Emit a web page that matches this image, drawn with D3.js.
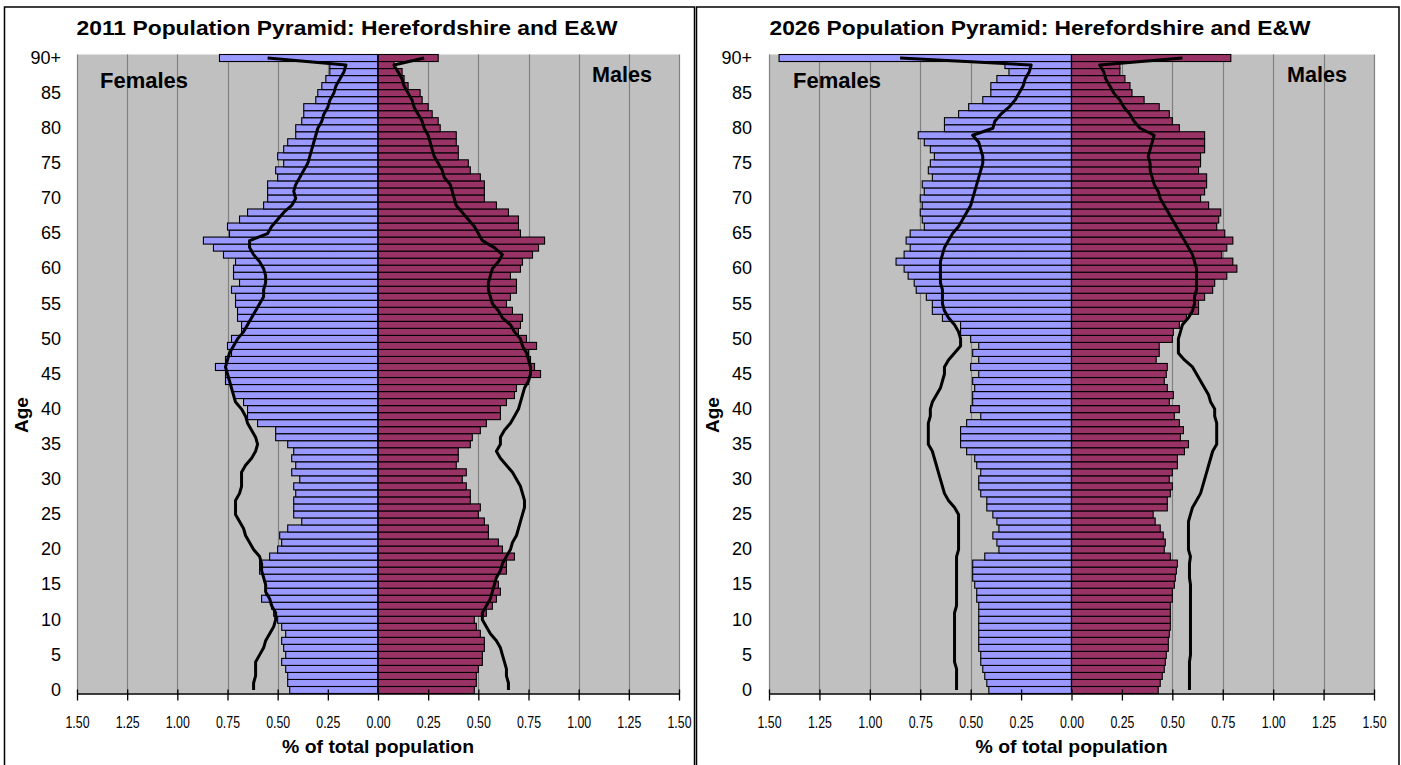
<!DOCTYPE html>
<html><head><meta charset="utf-8">
<script src="https://cdn.jsdelivr.net/npm/d3@7"></script>
<style>
body{margin:0;background:#fff}
svg{display:block}
text{font-family:"Liberation Sans",Arial,Helvetica,sans-serif;fill:#000}
</style>
</head><body>
<svg id="c" width="1401" height="765"></svg>
<script>
// ---------------- DATA ----------------
const ages = d3.range(0, 91); // 0..89, 90 = "90+"
const ageTickValues = [0,5,10,15,20,25,30,35,40,45,50,55,60,65,70,75,80,85,90];
const ageTickLabels = ["0","5","10","15","20","25","30","35","40","45","50","55","60","65","70","75","80","85","90+"];
const xTickValues = [-1.5,-1.25,-1,-0.75,-0.5,-0.25,0,0.25,0.5,0.75,1,1.25,1.5];
const xTickLabels = ["1.50","1.25","1.00","0.75","0.50","0.25","0.00","0.25","0.50","0.75","1.00","1.25","1.50"];
const titles = ["2011 Population Pyramid: Herefordshire and E&W","2026 Population Pyramid: Herefordshire and E&W"];

// % of total population, ages 0..90+
const females2011 = [0.44,0.45,0.45,0.46,0.48,0.46,0.47,0.48,0.46,0.48,
 0.50,0.52,0.53,0.58,0.56,0.56,0.57,0.59,0.59,0.54,
 0.50,0.48,0.49,0.45,0.38,0.42,0.42,0.42,0.41,0.42,
 0.39,0.43,0.41,0.43,0.42,0.45,0.51,0.51,0.60,0.65,
 0.65,0.67,0.72,0.73,0.76,0.76,0.81,0.76,0.73,0.75,
 0.73,0.68,0.68,0.70,0.70,0.71,0.71,0.73,0.69,0.72,
 0.72,0.71,0.77,0.82,0.87,0.74,0.75,0.69,0.65,0.57,
 0.55,0.55,0.55,0.50,0.51,0.47,0.50,0.47,0.45,0.41,
 0.41,0.38,0.37,0.37,0.31,0.30,0.28,0.26,0.24,0.24,
 0.79];
const males2011 = [0.48,0.49,0.49,0.50,0.52,0.52,0.53,0.53,0.51,0.49,
 0.48,0.54,0.57,0.59,0.61,0.60,0.59,0.64,0.64,0.68,
 0.62,0.60,0.55,0.55,0.53,0.50,0.51,0.46,0.46,0.44,
 0.42,0.44,0.39,0.40,0.40,0.46,0.47,0.51,0.54,0.61,
 0.61,0.64,0.68,0.69,0.75,0.81,0.78,0.76,0.75,0.79,
 0.74,0.70,0.71,0.72,0.67,0.64,0.66,0.69,0.69,0.66,
 0.71,0.72,0.77,0.80,0.83,0.71,0.70,0.70,0.65,0.59,
 0.53,0.53,0.53,0.51,0.46,0.45,0.40,0.40,0.39,0.39,
 0.31,0.30,0.27,0.25,0.22,0.21,0.15,0.13,0.12,0.08,
 0.30];
const ewFemales2011 = [0.62,0.62,0.61,0.61,0.61,0.59,0.57,0.56,0.54,0.52,
 0.51,0.51,0.53,0.54,0.56,0.56,0.57,0.58,0.58,0.59,
 0.62,0.64,0.66,0.67,0.69,0.71,0.71,0.71,0.69,0.68,
 0.68,0.68,0.66,0.63,0.61,0.60,0.61,0.63,0.65,0.66,
 0.68,0.71,0.72,0.73,0.74,0.75,0.76,0.75,0.74,0.72,
 0.70,0.67,0.65,0.63,0.61,0.59,0.57,0.57,0.56,0.56,
 0.57,0.59,0.62,0.64,0.64,0.55,0.53,0.50,0.47,0.43,
 0.41,0.42,0.41,0.39,0.37,0.35,0.34,0.33,0.32,0.31,
 0.30,0.28,0.27,0.25,0.24,0.22,0.21,0.19,0.17,0.16,
 0.55];
const ewMales2011 = [0.65,0.65,0.64,0.64,0.63,0.62,0.61,0.59,0.56,0.54,
 0.52,0.52,0.54,0.56,0.57,0.58,0.59,0.61,0.62,0.64,
 0.66,0.67,0.69,0.70,0.71,0.72,0.73,0.73,0.72,0.71,
 0.69,0.67,0.64,0.61,0.59,0.61,0.61,0.63,0.66,0.68,
 0.70,0.71,0.72,0.73,0.75,0.76,0.76,0.75,0.74,0.72,
 0.71,0.68,0.66,0.62,0.60,0.57,0.56,0.55,0.55,0.56,
 0.57,0.60,0.62,0.58,0.52,0.50,0.48,0.45,0.42,0.39,
 0.38,0.37,0.36,0.33,0.32,0.30,0.28,0.27,0.26,0.25,
 0.23,0.22,0.20,0.18,0.17,0.15,0.13,0.12,0.10,0.08,
 0.23];

const females2026 = [0.41,0.42,0.43,0.44,0.45,0.45,0.46,0.46,0.46,0.46,
 0.46,0.46,0.46,0.47,0.47,0.48,0.49,0.49,0.49,0.43,
 0.36,0.37,0.39,0.36,0.37,0.39,0.42,0.42,0.45,0.46,
 0.46,0.45,0.47,0.48,0.52,0.55,0.55,0.55,0.52,0.45,
 0.50,0.49,0.49,0.48,0.49,0.46,0.50,0.46,0.49,0.46,
 0.50,0.55,0.55,0.64,0.69,0.69,0.72,0.77,0.78,0.81,
 0.83,0.87,0.83,0.80,0.82,0.80,0.73,0.74,0.75,0.74,
 0.75,0.73,0.74,0.69,0.71,0.70,0.68,0.70,0.73,0.76,
 0.63,0.63,0.56,0.51,0.44,0.40,0.40,0.37,0.31,0.33,
 1.45];
const males2026 = [0.43,0.44,0.45,0.46,0.465,0.47,0.48,0.48,0.485,0.49,
 0.49,0.49,0.49,0.50,0.50,0.51,0.515,0.52,0.525,0.49,
 0.46,0.465,0.455,0.44,0.415,0.405,0.475,0.475,0.49,0.50,
 0.485,0.50,0.525,0.525,0.56,0.58,0.54,0.555,0.535,0.51,
 0.535,0.485,0.505,0.475,0.46,0.47,0.475,0.42,0.435,0.435,
 0.50,0.505,0.535,0.57,0.63,0.63,0.66,0.70,0.71,0.77,
 0.82,0.80,0.745,0.77,0.80,0.76,0.72,0.73,0.74,0.68,
 0.64,0.66,0.67,0.67,0.63,0.64,0.64,0.66,0.66,0.66,
 0.535,0.50,0.485,0.435,0.36,0.30,0.29,0.265,0.24,0.24,
 0.79];
const ewFemales2026 = [0.57,0.57,0.57,0.57,0.58,0.58,0.58,0.58,0.58,0.58,
 0.58,0.58,0.57,0.57,0.57,0.57,0.57,0.57,0.57,0.57,
 0.56,0.56,0.56,0.56,0.56,0.56,0.58,0.61,0.63,0.64,
 0.65,0.66,0.67,0.68,0.69,0.71,0.71,0.71,0.71,0.70,
 0.70,0.69,0.67,0.65,0.64,0.63,0.63,0.61,0.58,0.55,
 0.55,0.56,0.58,0.61,0.63,0.64,0.64,0.64,0.65,0.65,
 0.65,0.65,0.64,0.63,0.61,0.59,0.56,0.54,0.52,0.50,
 0.49,0.48,0.47,0.46,0.45,0.44,0.44,0.45,0.46,0.49,
 0.39,0.38,0.35,0.31,0.28,0.26,0.24,0.23,0.21,0.20,
 0.85];
const ewMales2026 = [0.585,0.585,0.585,0.585,0.585,0.59,0.59,0.59,0.59,0.59,
 0.59,0.59,0.59,0.59,0.59,0.59,0.585,0.585,0.585,0.59,
 0.58,0.58,0.58,0.58,0.58,0.59,0.60,0.62,0.64,0.65,
 0.66,0.67,0.68,0.69,0.70,0.72,0.72,0.72,0.72,0.71,
 0.71,0.69,0.68,0.66,0.64,0.62,0.60,0.56,0.53,0.53,
 0.53,0.54,0.55,0.58,0.60,0.61,0.61,0.62,0.62,0.62,
 0.62,0.61,0.60,0.58,0.56,0.54,0.52,0.50,0.48,0.46,
 0.44,0.43,0.41,0.40,0.39,0.39,0.38,0.39,0.40,0.41,
 0.34,0.31,0.29,0.26,0.24,0.21,0.19,0.17,0.16,0.14,
 0.55];

// ---------------- LAYOUT ----------------
const PLOT_TOP = 54.5, PLOT_BOTTOM = 693.5, PANEL_TOP = 7;
const panels = [
  {left:4.5, right:694.5, plotL:77, plotR:679, titleX:347, ageX:22, yLabX:61,
   femX:100, maleX:592, title:titles[0],
   fem:females2011, male:males2011, ewF:ewFemales2011, ewM:ewMales2011},
  {left:696.5, right:1399, plotL:769, plotR:1374, titleX:1040, ageX:713, yLabX:752,
   femX:793, maleX:1287, title:titles[1],
   fem:females2026, male:males2026, ewF:ewFemales2026, ewM:ewMales2026}
];
const FEM_COL = "#9999ff", MALE_COL = "#993366", BG = "#c0c0c0", GRID = "#808080";

const svg = d3.select("#c");

panels.forEach(p => {
  const g = svg.append("g");
  g.append("rect").attr("x", p.left).attr("y", PANEL_TOP)
    .attr("width", p.right - p.left).attr("height", 800)
    .attr("fill", "#fff").attr("stroke", "#000").attr("stroke-width", 1.5);

  const x = d3.scaleLinear().domain([-1.5, 1.5]).range([p.plotL, p.plotR]);
  const y = d3.scaleBand().domain(ages).range([PLOT_BOTTOM, PLOT_TOP]).paddingInner(0).paddingOuter(0);
  const bw = y.bandwidth();

  // plot area
  g.append("rect").attr("x", x(-1.5)).attr("y", PLOT_TOP)
    .attr("width", x(1.5) - x(-1.5)).attr("height", PLOT_BOTTOM - PLOT_TOP).attr("fill", BG);

  // gridlines
  g.selectAll(".grid").data(xTickValues.filter(v => v !== 0)).join("line")
    .attr("x1", d => Math.round(x(d)) + 0.5).attr("x2", d => Math.round(x(d)) + 0.5)
    .attr("y1", PLOT_TOP).attr("y2", PLOT_BOTTOM)
    .attr("stroke", GRID).attr("stroke-width", 1.2);

  // bars
  g.selectAll(".fb").data(ages).join("rect")
    .attr("x", a => x(-p.fem[a])).attr("width", a => x(0) - x(-p.fem[a]))
    .attr("y", a => y(a)).attr("height", bw)
    .attr("fill", FEM_COL).attr("stroke", "#000").attr("stroke-width", 1.1);
  g.selectAll(".mb").data(ages).join("rect")
    .attr("x", x(0)).attr("width", a => x(p.male[a]) - x(0))
    .attr("y", a => y(a)).attr("height", bw)
    .attr("fill", MALE_COL).attr("stroke", "#000").attr("stroke-width", 1.1);

  // category axis at centre
  g.append("line").attr("x1", x(0)).attr("x2", x(0)).attr("y1", PLOT_TOP).attr("y2", PLOT_BOTTOM)
    .attr("stroke", "#000").attr("stroke-width", 1.2);

  // E&W lines
  const lf = d3.line().x(a => x(-p.ewF[a])).y(a => y(a) + bw / 2);
  const lm = d3.line().x(a => x(p.ewM[a])).y(a => y(a) + bw / 2);
  g.append("path").attr("d", lf(ages)).attr("fill", "none").attr("stroke", "#000")
    .attr("stroke-width", 3).attr("stroke-linejoin", "round");
  g.append("path").attr("d", lm(ages)).attr("fill", "none").attr("stroke", "#000")
    .attr("stroke-width", 3).attr("stroke-linejoin", "round");

  // x axis
  const xa = g.append("g").attr("transform", `translate(0,${PLOT_BOTTOM})`)
    .call(d3.axisBottom(x).tickValues(xTickValues).tickFormat((d, i) => xTickLabels[i])
      .tickSizeInner(7).tickSizeOuter(0).tickPadding(10));
  xa.select(".domain").attr("stroke", "#000").attr("stroke-width", 1.5);
  xa.selectAll(".tick line").attr("y1", -4).attr("y2", 7).attr("stroke", "#000").attr("stroke-width", 1.3);
  xa.selectAll(".tick text").attr("y", 34.5).attr("dy", null)
    .style("font-size", "16px").attr("textLength", 24).attr("lengthAdjust", "spacingAndGlyphs");

  // y axis labels (low position)
  const ya = g.append("g").attr("transform", `translate(${p.yLabX},0)`)
    .call(d3.axisLeft(y).tickValues(ageTickValues).tickFormat(a => ageTickLabels[ageTickValues.indexOf(a)])
      .tickSize(0).tickPadding(0));
  ya.select(".domain").remove();
  ya.selectAll(".tick text").style("font-size", "18px");

  // title
  g.append("text").attr("x", p.titleX).attr("y", 35).attr("text-anchor", "middle")
    .style("font-size", "21px").style("font-weight", "bold")
    .attr("textLength", 541).attr("lengthAdjust", "spacingAndGlyphs").text(p.title);

  // axis titles
  g.append("text").attr("x", x(0)).attr("y", 753).attr("text-anchor", "middle")
    .style("font-size", "19px").style("font-weight", "bold")
    .attr("textLength", 192).attr("lengthAdjust", "spacingAndGlyphs").text("% of total population");
  g.append("text").attr("transform", `translate(${p.ageX + 6},415) rotate(-90)`)
    .attr("text-anchor", "middle").style("font-size", "19px").style("font-weight", "bold").text("Age");

  // Females / Males labels
  g.append("text").attr("x", p.femX).attr("y", 88).style("font-size", "22px").style("font-weight", "bold")
    .attr("textLength", 88).attr("lengthAdjust", "spacingAndGlyphs").text("Females");
  g.append("text").attr("x", p.maleX).attr("y", 82).style("font-size", "22px").style("font-weight", "bold")
    .attr("textLength", 60).attr("lengthAdjust", "spacingAndGlyphs").text("Males");
});
</script>
</body></html>
